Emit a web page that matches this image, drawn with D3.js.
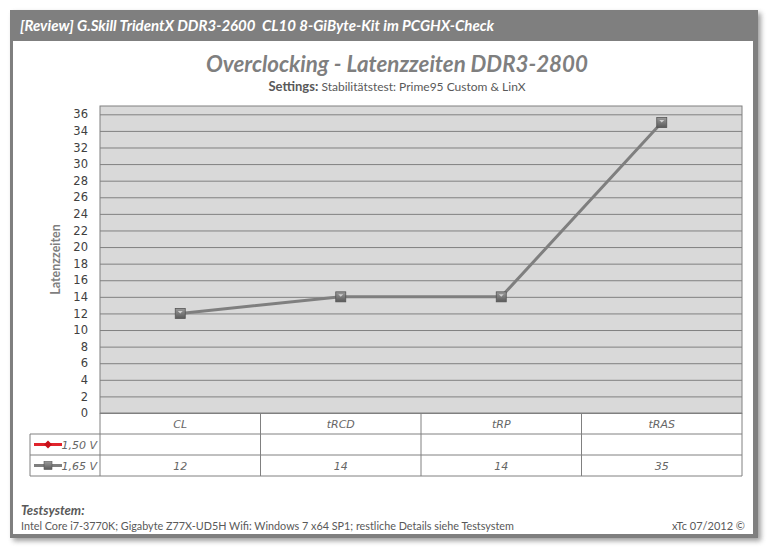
<!DOCTYPE html>
<html><head><meta charset="utf-8">
<script src="https://cdn.jsdelivr.net/npm/d3@7"></script>
<style>body{margin:0;background:#fff;}svg{display:block;}</style>
</head><body>
<script>
const categories = ["CL", "tRCD", "tRP", "tRAS"];
const seriesNames = ["1,50 V", "1,65 V"];
const values150 = [null, null, null, null];
const values165 = [12, 14, 14, 35];
const yTicks = d3.range(0, 37, 2);
const headerText = "[Review] G.Skill TridentX DDR3-2600\u00a0 CL10 8-GiByte-Kit im PCGHX-Check";
const titleText = "Overclocking - Latenzzeiten DDR3-2800";

const W = 767, H = 547;
const svg = d3.select("body").append("svg").attr("width", W).attr("height", H);
const defs = svg.append("defs");
const f = defs.append("filter").attr("id","sh").attr("x","-5%").attr("y","-5%").attr("width","110%").attr("height","110%");
f.append("feGaussianBlur").attr("stdDeviation", 2.5);
const g1 = defs.append("linearGradient").attr("id","mk").attr("x1",0).attr("y1",0).attr("x2",0).attr("y2",1);
g1.append("stop").attr("offset","0%").attr("stop-color","#9a9a9a");
g1.append("stop").attr("offset","100%").attr("stop-color","#5a5a5a");

// frame shadow
svg.append("rect").attr("x",13).attr("y",13).attr("width",748).attr("height",528).attr("fill","#888").attr("filter","url(#sh)").attr("opacity",0.8);
// frame
svg.append("rect").attr("x",10).attr("y",10).attr("width",748).attr("height",528).attr("fill","#7f7f7f");
svg.append("rect").attr("x",13).attr("y",41).attr("width",740).attr("height",493).attr("fill","#fff");
svg.append("text").attr("x",20).attr("y",31).attr("fill","#fff")
  .style("font-family","Lato, 'Open Sans', sans-serif").style("font-weight","bold").style("font-style","italic").style("font-size","15px")
  .text(headerText);

// titles
svg.append("text").attr("x",397).attr("y",72).attr("text-anchor","middle").attr("fill","#7f7f7f")
  .style("font-family","Lato, 'Open Sans', sans-serif").style("font-style","italic").style("font-weight","bold").style("font-size","22.3px")
  .text(titleText);
const sub = svg.append("text").attr("x",397).attr("y",91).attr("text-anchor","middle").attr("fill","#595959")
  .style("font-family","Lato, 'Open Sans', sans-serif").style("font-size","12px");
sub.append("tspan").style("font-weight","bold").style("font-size","13px").text("Settings: ");
sub.append("tspan").text("Stabilitätstest: Prime95 Custom & LinX");

// plot
const pLeft = 100, pRight = 742, pTop = 106, pBottom = 413;
const x = d3.scaleBand().domain(categories).range([pLeft, pRight]);
const y = d3.scaleLinear().domain([0, 37]).range([pBottom, pTop]);

svg.append("rect").attr("x",pLeft).attr("y",pTop).attr("width",pRight-pLeft).attr("height",pBottom-pTop).attr("fill","#d9d9d9").attr("stroke","#808080");
const yAxis = d3.axisLeft(y).tickValues(yTicks).tickSize(-(pRight-pLeft)).tickPadding(12);
const ga = svg.append("g").attr("transform",`translate(${pLeft},0)`).call(yAxis);
ga.select(".domain").remove();
ga.selectAll(".tick line").attr("stroke","#808080").attr("stroke-width",1);
ga.selectAll(".tick text").attr("fill","#404040").style("font-family","'DejaVu Sans', sans-serif").style("font-size","11.5px");

svg.append("text").attr("transform",`translate(60,${(pTop+pBottom)/2}) rotate(-90)`).attr("text-anchor","middle")
  .attr("fill","#7f7f7f").style("font-family","Lato, 'Open Sans', sans-serif").style("font-weight","bold").style("font-size","12.5px")
  .text("Latenzzeiten");

// line
const line = d3.line().defined(d=>d!=null).x((d,i)=>x(categories[i])+x.bandwidth()/2).y(d=>y(d));
svg.append("path").datum(values165).attr("d",line).attr("fill","none").attr("stroke","#7f7f7f").attr("stroke-width",3);
svg.append("path").datum(values150).attr("d",line).attr("fill","none").attr("stroke","#e0242c").attr("stroke-width",3);
const pts = values165.map((v,i)=>({v,c:categories[i]})).filter(d=>d.v!=null);
svg.selectAll(".mk").data(pts).enter().append("rect").attr("class","mk")
  .attr("x",d=>x(d.c)+x.bandwidth()/2-5).attr("y",d=>y(d.v)-5).attr("width",10).attr("height",10)
  .attr("fill","url(#mk)").attr("stroke","#555").attr("stroke-width",0.8);
svg.selectAll(".mkh").data(pts).enter().append("path")
  .attr("d",d=>{const cx=x(d.c)+x.bandwidth()/2, cy=y(d.v); return `M${cx-2.5},${cy-2.5}L${cx+2.5},${cy-2.5}L${cx},${cy}Z`;})
  .attr("fill","#d0d0d0");

// table
const rowH = 21;
const tg = svg.append("g");
const tStroke = "#808080";
const tFont = s => s.style("font-family","'DejaVu Sans', sans-serif").style("font-style","italic").style("font-size","11px").attr("fill","#666");
tg.append("line").attr("x1",pLeft).attr("x2",pRight).attr("y1",pBottom+rowH).attr("y2",pBottom+rowH).attr("stroke",tStroke);
tg.append("line").attr("x1",30).attr("x2",pRight).attr("y1",pBottom+rowH*2).attr("y2",pBottom+rowH*2).attr("stroke",tStroke);
tg.append("line").attr("x1",30).attr("x2",pRight).attr("y1",pBottom+rowH*3).attr("y2",pBottom+rowH*3).attr("stroke",tStroke);
tg.append("line").attr("x1",30).attr("x2",pLeft).attr("y1",pBottom+rowH).attr("y2",pBottom+rowH).attr("stroke",tStroke);
tg.append("line").attr("x1",30).attr("x2",30).attr("y1",pBottom+rowH).attr("y2",pBottom+rowH*3).attr("stroke",tStroke);
const cols = categories.map(c=>x(c)).concat([pRight]);
cols.forEach(cx=>tg.append("line").attr("x1",cx).attr("x2",cx).attr("y1",pBottom).attr("y2",pBottom+rowH*3).attr("stroke",tStroke));
categories.forEach((c,i)=>{
  tFont(tg.append("text").attr("x",x(c)+x.bandwidth()/2).attr("y",pBottom+15).attr("text-anchor","middle").text(c));
  if(values150[i]!=null) tFont(tg.append("text").attr("x",x(c)+x.bandwidth()/2).attr("y",pBottom+rowH+15).attr("text-anchor","middle").text(values150[i]));
  if(values165[i]!=null) tFont(tg.append("text").attr("x",x(c)+x.bandwidth()/2).attr("y",pBottom+rowH*2+15).attr("text-anchor","middle").text(values165[i]));
});
const ly1 = pBottom+rowH*1.5, ly2 = pBottom+rowH*2.5;
tg.append("line").attr("x1",34).attr("x2",62).attr("y1",ly1).attr("y2",ly1).attr("stroke","#e0242c").attr("stroke-width",3);
tg.append("path").attr("d",`M48,${ly1-4}L52,${ly1}L48,${ly1+4}L44,${ly1}Z`).attr("fill","#c8101a");
tg.append("line").attr("x1",34).attr("x2",62).attr("y1",ly2).attr("y2",ly2).attr("stroke","#7f7f7f").attr("stroke-width",3);
tg.append("rect").attr("x",44).attr("y",ly2-4).attr("width",8).attr("height",8).attr("fill","url(#mk)").attr("stroke","#555").attr("stroke-width",0.6);
seriesNames.forEach((s,i)=>tFont(tg.append("text").attr("x",97).attr("y",pBottom+rowH*(i+1)+15).attr("text-anchor","end").style("font-size","12px").text(s)));

// footer
svg.append("text").attr("x",21).attr("y",515).attr("fill","#595959")
  .style("font-family","Lato, 'Open Sans', sans-serif").style("font-weight","bold").style("font-style","italic").style("font-size","13px").text("Testsystem:");
svg.append("text").attr("x",21).attr("y",530).attr("fill","#595959")
  .style("font-family","Lato, 'Open Sans', sans-serif").style("font-size","10.8px")
  .text("Intel Core i7-3770K; Gigabyte Z77X-UD5H Wifi: Windows 7 x64 SP1; restliche Details siehe Testsystem");
svg.append("text").attr("x",745).attr("y",530).attr("text-anchor","end").attr("fill","#595959")
  .style("font-family","Lato, 'Open Sans', sans-serif").style("font-size","11px").text("xTc 07/2012 ©");
</script>
</body></html>
